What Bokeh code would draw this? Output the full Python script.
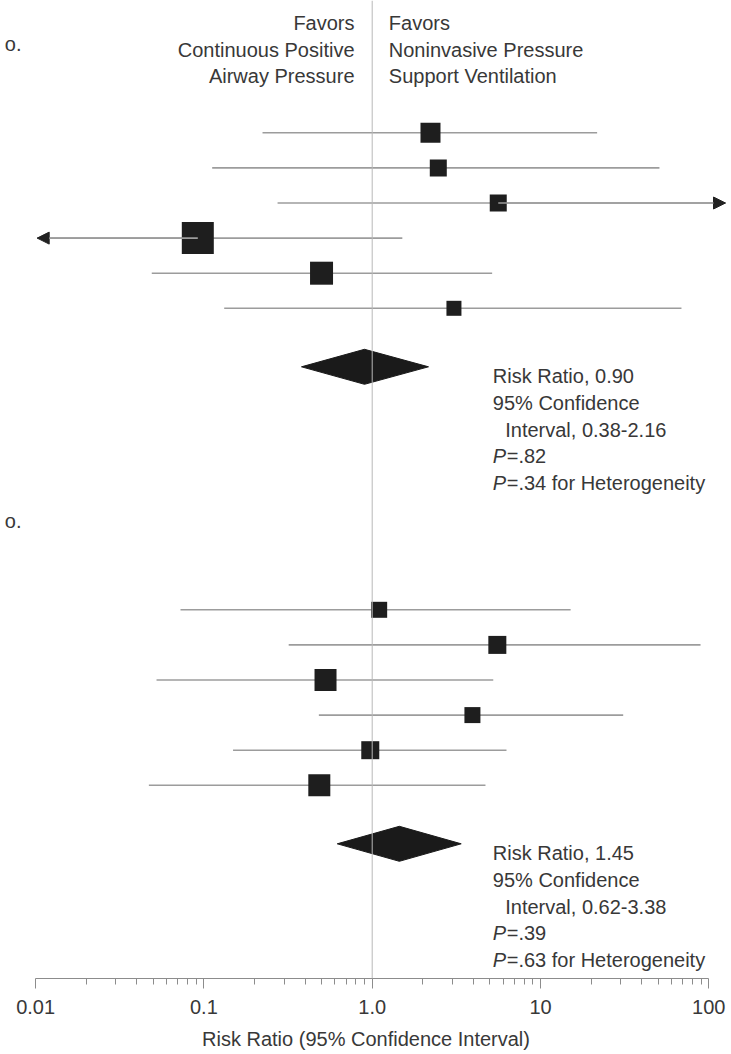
import json
from bokeh.plotting import figure
from bokeh.models import (Range1d, FixedTicker, CustomJSTickFormatter, Arrow,
                          NormalHead, Span)
from bokeh.core.properties import value
from bokeh.embed import file_html
from bokeh.resources import INLINE

# ---------------- data ----------------
favors_left = ["Favors", "Continuous Positive", "Airway Pressure"]
favors_right = ["Favors", "Noninvasive Pressure", "Support Ventilation"]
panel_label = "o."

# panel 1 studies (None = beyond the plotted range, drawn as an arrow)
p1_est = [2.22, 2.47, 5.61, 0.092, 0.50, 3.06]
p1_lo = [0.223, 0.112, 0.274, None, 0.049, 0.132]
p1_hi = [21.7, 50.9, None, 1.51, 5.16, 68.8]
p1_box = [20, 17, 17, 32, 23, 15]          # marker side (study weight)

# panel 2 studies
p2_est = [1.10, 5.54, 0.528, 3.94, 0.974, 0.485]
p2_lo = [0.0726, 0.319, 0.0523, 0.482, 0.149, 0.0471]
p2_hi = [15.1, 89.3, 5.24, 31.0, 6.28, 4.71]
p2_box = [16, 18, 22, 16, 18, 22]

pooled_rr = [0.90, 1.45]
pooled_lo = [0.38, 0.62]
pooled_hi = [2.16, 3.38]
pooled_p = [".82", ".39"]
pooled_p_het = [".34", ".63"]

tick_values = [0.01, 0.1, 1, 10, 100]
tick_labels = ["0.01", "0.1", "1.0", "10", "100"]
axis_title = "Risk Ratio (95% Confidence Interval)"

# ---------------- layout ----------------
FONT = "Liberation Sans"
FS = "20px"
TXT = "#383838"
CI_COLOR = "#9c9c9c"
BOX_COLOR = "#1e1e1e"

PX_AT_ONE = 371.7          # page x of RR = 1
PX_PER_DECADE = 168.3
PAGE_L, PAGE_R = 0, 731
FRAME_TOP, FRAME_BOTTOM = 0, 978
FIG_H = 1054


def px_to_val(px):
    return 10 ** ((px - PX_AT_ONE) / PX_PER_DECADE)


CLIP_LO = px_to_val(36.7)   # arrow tip positions at the plot edges
CLIP_HI = px_to_val(725)

PANEL_FIRST_ROW = [132.3, 609.3]
ROW_STEP = 35.1
DIAMOND_GAP = 58.5
DIAMOND_HALF = 17.5
LINE_STEP = 26.7

p = figure(width=PAGE_R - PAGE_L, height=FIG_H, x_axis_type="log",
           x_range=Range1d(px_to_val(PAGE_L), px_to_val(PAGE_R)),
           y_range=Range1d(FRAME_BOTTOM, FRAME_TOP),
           output_backend="svg", toolbar_location=None,
           min_border_left=0, min_border_right=0, min_border_top=0,
           min_border_bottom=FIG_H - FRAME_BOTTOM, y_axis_location=None)
p.grid.visible = False
p.outline_line_color = None
p.background_fill_color = "white"

# reference line at RR = 1
p.add_layout(Span(location=1, dimension="height", line_color="#b8b8b8", line_width=1))

panels = [(p1_est, p1_lo, p1_hi, p1_box), (p2_est, p2_lo, p2_hi, p2_box)]
for k, (est, lo, hi, box) in enumerate(panels):
    ys = [PANEL_FIRST_ROW[k] + i * ROW_STEP for i in range(len(est))]
    lo_d = [v if v is not None else CLIP_LO for v in lo]
    hi_d = [v if v is not None else CLIP_HI for v in hi]
    p.segment(x0=lo_d, y0=ys, x1=hi_d, y1=ys, line_color=CI_COLOR, line_width=1.6)
    for i in range(len(est)):
        if lo[i] is None:
            p.add_layout(Arrow(end=NormalHead(size=12, fill_color="#222222", line_color="#222222"),
                               x_start=est[i], y_start=ys[i], x_end=CLIP_LO, y_end=ys[i],
                               line_color=CI_COLOR, line_width=1.6))
        if hi[i] is None:
            p.add_layout(Arrow(end=NormalHead(size=12, fill_color="#222222", line_color="#222222"),
                               x_start=est[i], y_start=ys[i], x_end=CLIP_HI, y_end=ys[i],
                               line_color=CI_COLOR, line_width=1.6))
    p.scatter(x=est, y=ys, size=box, marker="square", fill_color=BOX_COLOR,
              line_color=BOX_COLOR, line_width=0)

    # pooled diamond
    dy = ys[-1] + DIAMOND_GAP
    p.patches(xs=[[pooled_lo[k], pooled_rr[k], pooled_hi[k], pooled_rr[k]]],
              ys=[[dy, dy - DIAMOND_HALF, dy, dy + DIAMOND_HALF]],
              fill_color="#1a1a1a", line_color="#1a1a1a")

    # summary text
    b0 = dy + 9.5
    lines = [f"Risk Ratio, {pooled_rr[k]:.2f}", "95% Confidence",
             f"Interval, {pooled_lo[k]:.2f}-{pooled_hi[k]:.2f}"]
    offs = [120.6, 120.6, 133.0]
    p.text(x=[1] * 3, y=[b0 + j * LINE_STEP for j in range(3)], text=lines,
           x_offset=offs, text_align="left", text_baseline="alphabetic",
           text_font=value(FONT), text_font_size=FS, text_color=TXT)
    p.text(x=[1, 1], y=[b0 + 3 * LINE_STEP, b0 + 4 * LINE_STEP], text=["P", "P"],
           x_offset=120.6, text_align="left", text_baseline="alphabetic",
           text_font=value(FONT), text_font_style="italic",
           text_font_size=FS, text_color=TXT)
    p.text(x=[1, 1], y=[b0 + 3 * LINE_STEP, b0 + 4 * LINE_STEP],
           text=[f"={pooled_p[k]}", f"={pooled_p_het[k]} for Heterogeneity"],
           x_offset=134.5, text_align="left", text_baseline="alphabetic",
           text_font=value(FONT), text_font_size=FS, text_color=TXT)

    # truncated panel column label (only its end is visible)
    p.text(x=[px_to_val(21)], y=[PANEL_FIRST_ROW[k] - 89], text=[panel_label],
           text_align="right", text_baseline="alphabetic",
           text_font=value(FONT), text_font_size=FS, text_color=TXT)

# header
HEAD_BASE = 22.7
HEAD_STEP = 26.3
hy = [HEAD_BASE + j * HEAD_STEP for j in range(3)]
p.text(x=[1] * 3, y=hy, text=favors_left, x_offset=-17.7, text_align="right",
       text_baseline="alphabetic", text_font=value(FONT), text_font_size=FS, text_color=TXT)
p.text(x=[1] * 3, y=hy, text=favors_right, x_offset=16.6, text_align="left",
       text_baseline="alphabetic", text_font=value(FONT), text_font_size=FS, text_color=TXT)

# axis
minor = [m * 10 ** e for e in (-2, -1, 0, 1) for m in range(2, 10)]
ax = p.xaxis[0]
ax.ticker = FixedTicker(ticks=tick_values, minor_ticks=minor)
label_map = {str(t): l for t, l in zip(tick_values, tick_labels)}
ax.formatter = CustomJSTickFormatter(
    code=f"const m = {json.dumps(label_map)}; const s = m[String(tick)]; return s === undefined ? '' : s;")
ax.bounds = (tick_values[0], tick_values[-1])
ax.axis_line_color = "#8c8c8c"
ax.major_tick_line_color = "#8c8c8c"
ax.minor_tick_line_color = "#8c8c8c"
ax.major_tick_in = 0
ax.major_tick_out = 10
ax.minor_tick_in = 0
ax.minor_tick_out = 6
ax.major_label_text_font = FONT
ax.major_label_text_font_size = FS
ax.major_label_text_color = TXT
ax.major_label_standoff = 11
ax.axis_label = axis_title
ax.axis_label_text_font = FONT
ax.axis_label_text_font_size = FS
ax.axis_label_text_font_style = "normal"
ax.axis_label_text_color = TXT
ax.axis_label_standoff = 11

open("out.html", "w").write(file_html(p, INLINE))
